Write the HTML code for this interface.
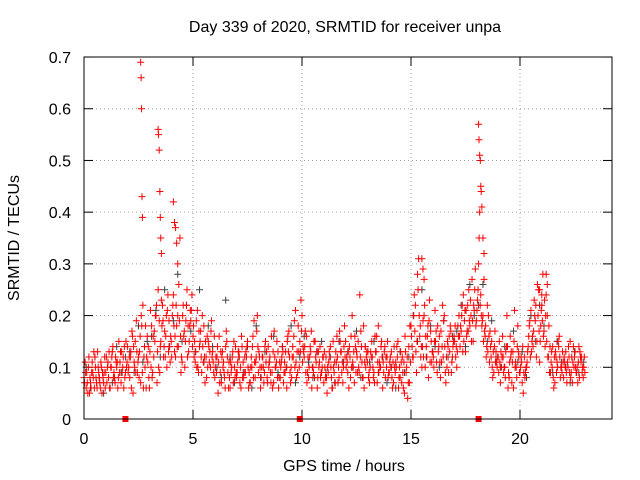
<!DOCTYPE html>
<html><head><meta charset="utf-8">
<style>
html,body{margin:0;padding:0;background:#fff;}
svg{display:block;font-family:"Liberation Sans",sans-serif;}
</style></head>
<body>
<svg id="chart" width="640" height="480" viewBox="0 0 640 480">
<rect width="640" height="480" fill="#fff"/>
<text x="345" y="32" font-size="16" text-anchor="middle" fill="#000">Day 339 of 2020, SRMTID for receiver unpa</text>
<text x="0" y="0" font-size="16" text-anchor="middle" fill="#000" transform="translate(19,238) rotate(-90)">SRMTID / TECUs</text>
<text x="344" y="471" font-size="16" text-anchor="middle" fill="#000">GPS time / hours</text>
<g id="grid"></g>
<g id="ticks"></g>
<g id="black"></g>
<g id="red"></g>
<g id="marks"></g>
<rect x="84" y="57" width="528" height="362" fill="none" stroke="#000" stroke-width="1"/>
</svg>
<script>
const xTicks=[0,5,10,15,20];
const yTicks=[0,0.1,0.2,0.3,0.4,0.5,0.6,0.7];
const yTickLabels=["0","0.1","0.2","0.3","0.4","0.5","0.6","0.7"];
const red1=[.08,.06,.10,.07,.09,.12,.06,.08,.10,.07,
.09,.11,.06,.13,.08,.10,.15,.07,.12,.09,
.14,.08,.17,.11,.19,.12,.07,.22,.10,.16,
.06,.18,.12,.20,.25,.14,.22,.17,.10,.19,
.15,.24,.12,.20,.35,.11,.17,.22,.13,.19,
.16,.11,.21,.14,.09,.18,.12,.15,.10,.13,
.08,.12,.16,.07,.11,.14,.09,.06,.12,.10,
.08,.13,.06,.11,.09,.15,.07,.10,.19,.12,
.09,.06,.12,.14,.08,.11,.16,.07,.10,.13,
.08,.14,.11,.06,.17,.10,.12,.21,.09,.15,
.20,.12,.16,.08,.13,.10,.15,.06,.11,.09,
.07,.12,.09,.14,.06,.11,.16,.08,.13,.10,
.15,.09,.12,.20,.07,.13,.10,.17,.08,.14,
.11,.07,.15,.09,.13,.18,.10,.06,.14,.12,
.09,.13,.07,.11,.15,.08,.12,.05,.10,.14,
.18,.12,.22,.28,.16,.10,.20,.14,.08,.17,
.13,.21,.09,.16,.11,.19,.07,.14,.18,.12,
.15,.10,.20,.17,.24,.13,.22,.18,.27,.21,
.19,.30,.24,.20,.16,.22,.11,.15,.09,.13,
.12,.07,.16,.10,.20,.08,.13,.06,.11,.18,
.09,.07,.12,.10,.16,.21,.14,.19,.26,.11,
.22,.17,.24,.12,.09,.14,.07,.11,.16,.10,
.08,.13,.10,.15,.07,.12,.09,.14,.11,.08];
const red2=[.11,.07,.05,.09,.13,.08,.10,.06,.09,.12,
.07,.13,.10,.08,.12,.06,.11,.09,.14,.10,
.10,.13,.05,.15,.09,.13,.18,.12,.06,.14,
.21,.09,.15,.07,.19,.23,.12,.16,.24,.11,
.20,.13,.18,.26,.09,.22,.15,.12,.18,.24,
.12,.19,.09,.17,.14,.07,.16,.11,.19,.09,
.12,.05,.09,.13,.08,.15,.11,.09,.07,.14,
.11,.07,.14,.09,.12,.06,.10,.16,.08,.20,
.12,.10,.07,.11,.14,.09,.06,.12,.15,.08,
.11,.07,.13,.16,.09,.12,.19,.08,.13,.23,
.14,.17,.09,.12,.06,.15,.11,.13,.08,.12,
.10,.05,.13,.08,.10,.13,.07,.15,.11,.18,
.12,.06,.16,.10,.14,.09,.24,.11,.06,.12,
.08,.13,.10,.16,.07,.11,.15,.09,.12,.08,
.12,.06,.10,.14,.08,.11,.06,.13,.04,.18,
.14,.24,.09,.31,.12,.19,.10,.16,.23,.11,
.10,.17,.13,.08,.22,.14,.10,.16,.09,.15,
.12,.18,.14,.22,.19,.16,.25,.20,.15,.29,
.23,.40,.18,.27,.12,.20,.14,.08,.17,.10,
.15,.10,.09,.13,.06,.16,.11,.21,.08,.12,
.12,.05,.09,.13,.19,.15,.23,.12,.25,.18,
.28,.14,.20,.09,.13,.06,.12,.15,.08,.13,
.11,.07,.12,.09,.14,.10,.07,.13,.09,.12];
const red3=[.07,.09,.12,.06,.08,.10,.13,.07,.05,.09,
.12,.08,.10,.14,.07,.11,.09,.13,.06,.15,
.09,.12,.16,.10,.13,.08,.20,.06,.18,.11,
.13,.08,.17,.22,.10,.15,.19,.12,.21,.14,
.12,.18,.22,.14,.16,.20,.10,.25,.15,.21,
.18,.13,.10,.15,.20,.12,.08,.14,.17,.11,
.10,.14,.07,.12,.09,.17,.06,.11,.13,.08,
.09,.12,.16,.08,.13,.10,.07,.14,.11,.17,
.13,.08,.10,.15,.07,.12,.09,.17,.11,.06,
.10,.13,.09,.15,.12,.08,.16,.11,.18,.13,
.11,.14,.07,.10,.17,.09,.12,.08,.14,.10,
.13,.08,.11,.10,.15,.07,.12,.17,.09,.14,
.10,.13,.08,.11,.16,.12,.09,.14,.18,.10,
.13,.10,.12,.07,.16,.09,.14,.11,.08,.15,
.11,.08,.14,.10,.06,.13,.09,.16,.12,.07,
.16,.20,.13,.25,.18,.14,.22,.12,.19,.15,
.12,.15,.18,.11,.14,.20,.12,.09,.17,.14,
.18,.13,.16,.20,.15,.21,.17,.23,.19,.25,
.21,.35,.20,.15,.18,.13,.17,.10,.14,.11,
.09,.13,.12,.08,.14,.11,.07,.15,.10,.13,
.10,.14,.08,.11,.18,.13,.17,.22,.20,.15,
.19,.23,.15,.18,.11,.08,.13,.10,.12,.09,
.12,.09,.14,.08,.11,.13,.10,.08,.12,.10];
const red4=[.09,.05,.08,.11,.06,.07,.09,.11,.08,.06,
.10,.06,.12,.09,.11,.08,.13,.10,.08,.11,
.12,.06,.14,.09,.11,.16,.09,.14,.12,.08,
.10,.16,.20,.13,.09,.18,.14,.20,.13,.16,
.22,.16,.14,.19,.12,.16,.19,.18,.21,.14,
.15,.10,.17,.12,.11,.15,.10,.13,.12,.16,
.09,.11,.13,.10,.06,.12,.08,.10,.15,.09,
.13,.10,.08,.12,.14,.09,.12,.08,.11,.14,
.10,.12,.09,.13,.10,.07,.13,.10,.08,.11,
.12,.09,.10,.13,.07,.14,.10,.13,.10,.17,
.13,.09,.12,.14,.10,.08,.13,.10,.09,.12,
.08,.10,.12,.06,.09,.11,.10,.13,.07,.12,
.11,.14,.10,.13,.09,.15,.12,.08,.11,.13,
.09,.12,.08,.13,.11,.10,.12,.13,.10,.09,
.10,.11,.09,.12,.10,.07,.11,.09,.07,.11,
.12,.17,.15,.20,.14,.12,.16,.18,.11,.13,
.15,.11,.14,.17,.12,.09,.15,.13,.11,.16,
.14,.16,.18,.13,.21,.17,.19,.15,.22,.18,
.25,.22,.19,.17,.14,.16,.12,.13,.11,.12,
.11,.12,.10,.14,.09,.12,.13,.10,.14,.09,
.11,.09,.10,.14,.12,.16,.20,.15,.17,.21,
.16,.20,.12,.14,.10,.12,.09,.14,.10,.11,
.10,.11,.09,.12,.10,.09,.11,.12,.10,.09];
const spikeT=[2.6,2.62,2.64,2.66,2.68,3.4,3.42,3.45,3.48,3.5,3.52,3.55,4.1,4.15,4.2,4.25,4.3,18.1,18.12,18.15,18.18,18.2,18.22,18.25,18.3,18.35,15.5,15.55,15.6,20.9,21.0,21.2,21.25];
const spikeV=[.69,.66,.60,.43,.39,.56,.55,.52,.44,.39,.35,.32,.42,.38,.37,.34,.30,.57,.54,.51,.50,.45,.44,.41,.35,.32,.31,.29,.27,.25,.24,.28,.26];
const blackV=[.10,.06,.12,.08,.05,.11,.07,.14,.09,.12,.13,.09,.18,.11,.15,.16,.21,.12,.25,.14,
.19,.28,.15,.22,.17,.13,.25,.11,.18,.14,.10,.08,.23,.12,.07,.12,.09,.14,.06,.18,
.08,.13,.11,.16,.09,.14,.10,.18,.07,.12,.16,.11,.08,.13,.15,.09,.12,.07,.15,.11,
.13,.10,.17,.08,.14,.11,.15,.09,.12,.07,.10,.06,.13,.09,.12,.20,.15,.25,.12,.18,
.14,.10,.19,.12,.16,.17,.22,.14,.26,.20,.22,.26,.15,.19,.12,.10,.14,.08,.17,.11,
.13,.08,.20,.15,.22,.18,.12,.09,.15,.11,.10,.07,.13,.09,.11];
const markHours=[1.9,9.9,18.1];

const X=h=>84+h*21.8;
const Y=v=>419-v*517.1;
const NS="http://www.w3.org/2000/svg";
function mk(tag,attrs,parent){const e=document.createElementNS(NS,tag);for(const k in attrs)e.setAttribute(k,attrs[k]);parent.appendChild(e);return e;}
const grid=document.getElementById('grid'),ticks=document.getElementById('ticks');
yTicks.forEach((v,i)=>{
  if(i>0&&i<yTicks.length-1){const g=mk('line',{x1:84,x2:612,y1:Y(v),y2:Y(v),stroke:'#a0a0a0','stroke-dasharray':'1,3'},grid);
  
  }
  const t=mk('line',{x1:84,x2:93,y1:Y(v),y2:Y(v),stroke:'#000'},ticks);
  
  
  const t2=mk('line',{x1:603,x2:612,y1:Y(v),y2:Y(v),stroke:'#000'},ticks);
  
  
  const l=mk('text',{x:71,y:Y(v)+6,'font-size':16,'text-anchor':'end'},ticks);l.textContent=yTickLabels[i];
  
  
});
xTicks.forEach(h=>{
  if(h>0){const g=mk('line',{x1:X(h),x2:X(h),y1:57,y2:419,stroke:'#a0a0a0','stroke-dasharray':'1,3'},grid);
  
  }
  const t=mk('line',{x1:X(h),x2:X(h),y1:410,y2:419,stroke:'#000'},ticks);
  
  
  const t2=mk('line',{x1:X(h),x2:X(h),y1:57,y2:66,stroke:'#000'},ticks);
  
  
  const l=mk('text',{x:X(h),y:444,'font-size':16,'text-anchor':'middle'},ticks);l.textContent=String(h);
  
  
});
function plus(g,h,v,col,name){
  const x=X(h),y=Y(v);
  const p=mk('path',{d:`M${x-3.5},${y}h7M${x},${y-3.5}v7`,stroke:col,'stroke-width':1,fill:'none'},g);
  
  
}
const bg=document.getElementById('black'),rg=document.getElementById('red');
blackV.forEach((v,i)=>plus(bg,i*0.2+0.1,v,'#404040','black-point'));
red1.forEach((v,i)=>plus(rg,i*0.1,v,'#ff0000','red-point'));
red2.forEach((v,i)=>plus(rg,i*0.1+0.05,v,'#ff0000','red-point'));
red3.forEach((v,i)=>plus(rg,i*0.1+0.025,v,'#ff0000','red-point'));
red4.forEach((v,i)=>plus(rg,i*0.1+0.075,v,'#ff0000','red-point'));
spikeT.forEach((t,i)=>plus(rg,t,spikeV[i],'#ff0000','red-spike-point'));
const mg=document.getElementById('marks');
markHours.forEach(h=>{
  const r=mk('rect',{x:X(h)-3,y:416,width:6,height:6,fill:'#ff0000'},mg);
  
  
});
</script>
</body></html>
